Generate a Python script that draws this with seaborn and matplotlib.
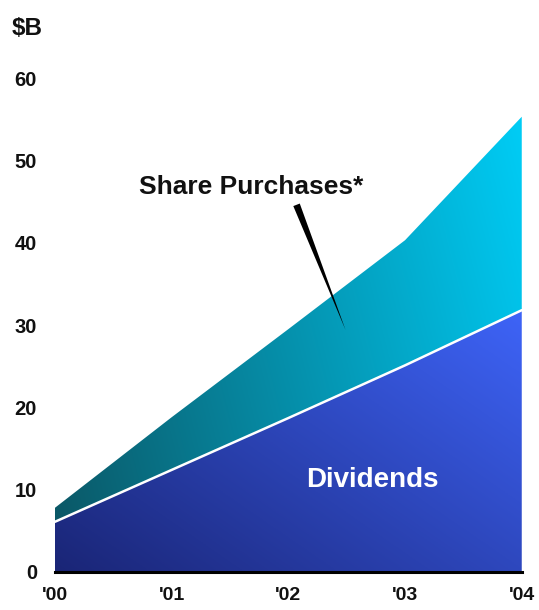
import numpy as np
import pandas as pd
import matplotlib
matplotlib.use("Agg")
import matplotlib.pyplot as plt
import seaborn as sns
from matplotlib.colors import to_rgb

years = [0, 1, 2, 3, 4]
year_labels = ["'00", "'01", "'02", "'03", "'04"]
dividends = [6.1, 12.4, 18.7, 25.1, 31.8]
share_purchases = [1.7, 6.4, 10.8, 15.2, 23.5]
y_ticks = [0, 10, 20, 30, 40, 50, 60]

df = pd.DataFrame({"year": years, "dividends": dividends,
                   "purchases": share_purchases})
df["total"] = df["dividends"] + df["purchases"]

sns.set_style("white")
plt.rcParams["font.family"] = ["Liberation Sans", "DejaVu Sans"]
plt.rcParams["font.weight"] = "bold"

fig = plt.figure(figsize=(5.39, 6.10), dpi=100)
ax = fig.add_axes([0.102, 0.0623, 0.866, 0.8098])
ax.set_xlim(0, 4)
ax.set_ylim(0, 60)


def gradient(c0, c1, wx, wy, ymax):
    gx, gy = np.meshgrid(np.linspace(0, 1, 300), np.linspace(0, 1, 300))
    t = wx * gx + wy * np.clip(gy * 60 / ymax, 0, 1)
    t = (t - t.min()) / (t.max() - t.min())
    a, b = np.array(to_rgb(c0)), np.array(to_rgb(c1))
    return a + (b - a) * t[..., None]


# stacked areas with gradient fill clipped to each polygon
poly_d = ax.fill_between(df["year"], 0, df["dividends"], color="none", lw=0)
poly_s = ax.fill_between(df["year"], df["dividends"], df["total"],
                         color="none", lw=0)

img_d = ax.imshow(gradient("#1a2576", "#3e64f8", 0.55, 0.45, 32),
                  extent=[0, 4, 0, 60], origin="lower", aspect="auto",
                  zorder=1)
img_d.set_clip_path(poly_d.get_paths()[0], transform=ax.transData)

img_s = ax.imshow(gradient("#0b5563", "#00cdf6", 0.8, 0.2, 56),
                  extent=[0, 4, 0, 60], origin="lower", aspect="auto",
                  zorder=1)
img_s.set_clip_path(poly_s.get_paths()[0], transform=ax.transData)

sns.lineplot(data=df, x="year", y="dividends", color="white", lw=1.8,
             ax=ax, zorder=3)

ax.set_xlabel("")
ax.set_ylabel("")
ax.set_xticks(years)
ax.set_xticklabels(year_labels)
ax.set_yticks(y_ticks)
ax.tick_params(axis="x", direction="in", length=6, width=1.5, color="black",
               pad=11, labelsize=14, labelcolor="#111111")
ax.tick_params(axis="y", length=0, pad=13, labelsize=14.5,
               labelcolor="#111111")
for lab in ax.get_xticklabels() + ax.get_yticklabels():
    lab.set_fontweight("bold")

sns.despine(ax=ax, left=True)
ax.spines["bottom"].set_linewidth(2.2)
ax.spines["bottom"].set_color("black")
ax.spines["bottom"].set_zorder(5)

fig.text(0.022, 0.953, "$B", fontsize=17.5, fontweight="bold",
         color="#111111", va="center", ha="left")

ax.annotate("", xy=(2.49, 29.4), xytext=(2.07, 44.6),
            arrowprops=dict(arrowstyle="wedge,tail_width=0.5,shrink_factor=0.5",
                            color="black", lw=0, shrinkA=0, shrinkB=0),
            zorder=6)
ax.text(1.68, 46.8, "Share Purchases*", fontsize=19, fontweight="bold",
        color="#111111", ha="center", va="center", zorder=6)
ax.text(2.72, 11.2, "Dividends", fontsize=20, fontweight="bold",
        color="white", ha="center", va="center", zorder=6)

fig.savefig("out.png", dpi=100)
